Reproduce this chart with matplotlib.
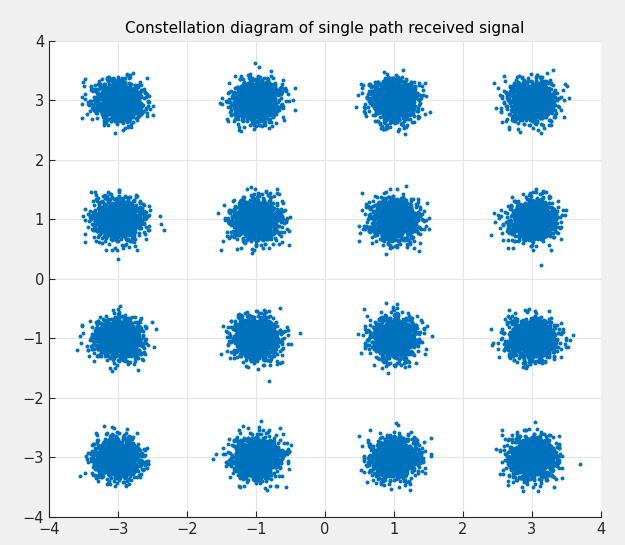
import numpy as np
import matplotlib.pyplot as plt

# 16-QAM constellation points and observed noise spread
levels = [-3, -1, 1, 3]
noise_std = 0.17
points_per_symbol = 1200
ticks = [-4, -3, -2, -1, 0, 1, 2, 3, 4]

rng = np.random.default_rng(7)
ii, qq = np.meshgrid(levels, levels)
centers = (ii + 1j * qq).ravel()
sym = np.repeat(centers, points_per_symbol)
rx = sym + noise_std * (rng.standard_normal(sym.size) + 1j * rng.standard_normal(sym.size))

fig = plt.figure(figsize=(6.25, 5.45), dpi=100, facecolor='#f0f0f0')
ax = fig.add_axes([0.0784, 0.0514, 0.8832, 0.8734])
ax.set_facecolor('white')
ax.scatter(rx.real, rx.imag, s=8, color='#0072BD', linewidths=0, zorder=3)

ax.set_xlim(-4, 4)
ax.set_ylim(-4, 4)
ax.set_xticks(ticks)
ax.set_yticks(ticks)
ax.grid(True, color='#e6e6e6', linewidth=0.8, zorder=0)
for s in ['top', 'right']:
    ax.spines[s].set_visible(False)
for s in ['left', 'bottom']:
    ax.spines[s].set_color('#262626')
    ax.spines[s].set_linewidth(0.8)
ax.tick_params(direction='in', length=4, colors='#262626', labelsize=10.5, width=0.8)
ax.set_title('Constellation diagram of single path received signal', fontsize=11, color='black', pad=6)

fig.savefig('out.png', dpi=100, facecolor=fig.get_facecolor())
